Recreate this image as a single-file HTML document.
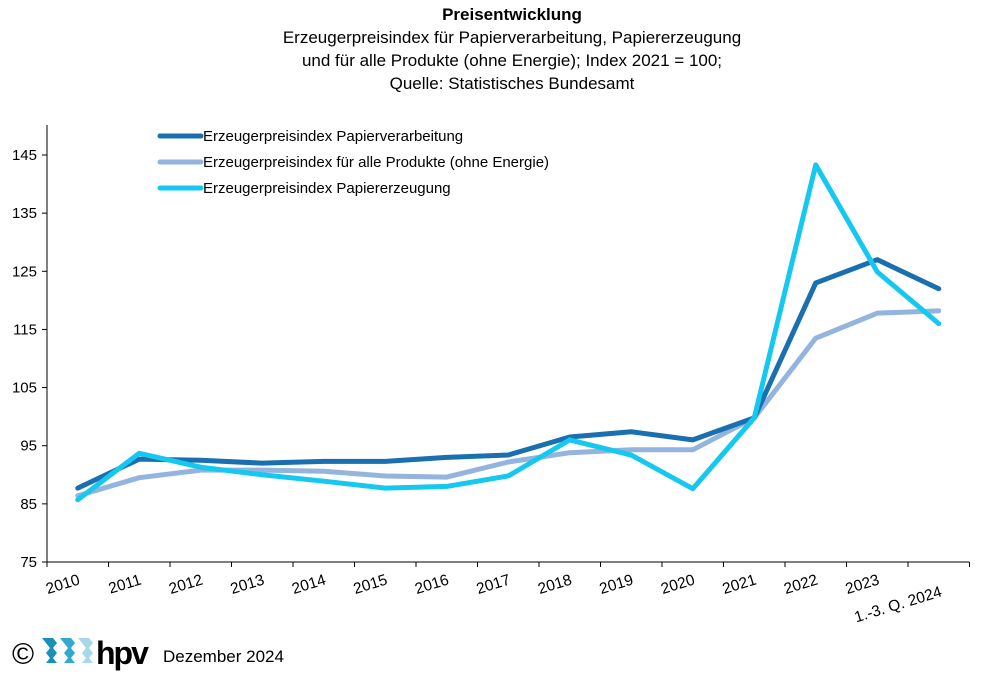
<!DOCTYPE html>
<html><head><meta charset="utf-8"><style>
body{margin:0;background:#fff;font-family:"Liberation Sans",sans-serif;}
#wrap{position:relative;width:981px;height:675px;overflow:hidden;}
</style></head><body>
<div id="wrap">
<svg id="chart" width="981" height="675" style="position:absolute;left:0;top:0">
<text x="512" y="20" text-anchor="middle" font-size="17" font-weight="bold">Preisentwicklung</text>
<text x="512" y="43" text-anchor="middle" font-size="17">Erzeugerpreisindex für Papierverarbeitung, Papiererzeugung</text>
<text x="512" y="66" text-anchor="middle" font-size="17">und für alle Produkte (ohne Energie); Index 2021 = 100;</text>
<text x="512" y="89" text-anchor="middle" font-size="17">Quelle: Statistisches Bundesamt</text>
<g id="axes"></g><g id="series"></g>
<g>
<line x1="160" y1="136" x2="201" y2="136" stroke="#1a6fb0" stroke-width="5" stroke-linecap="round"/>
<text x="203" y="141" font-size="15">Erzeugerpreisindex Papierverarbeitung</text>
<line x1="160" y1="162" x2="201" y2="162" stroke="#92b4de" stroke-width="5" stroke-linecap="round"/>
<text x="203" y="167" font-size="15">Erzeugerpreisindex für alle Produkte (ohne Energie)</text>
<line x1="160" y1="188" x2="201" y2="188" stroke="#14c8ef" stroke-width="5" stroke-linecap="round"/>
<text x="203" y="193" font-size="15">Erzeugerpreisindex Papiererzeugung</text>
</g>
<g>
<text x="12" y="664" font-size="30">©</text>
<path d="M42 638 h11 l4 5 l-4 5 l4 5 l-4 5 l4 5 h-11 l4 -5 l-4 -5 l4 -5 l-4 -5 z" fill="#1a8fb8"/>
<path d="M60 638 h11 l4 5 l-4 5 l4 5 l-4 5 l4 5 h-11 l4 -5 l-4 -5 l4 -5 l-4 -5 z" fill="#34a8cf"/>
<path d="M78 638 h11 l4 5 l-4 5 l4 5 l-4 5 l4 5 h-11 l4 -5 l-4 -5 l4 -5 l-4 -5 z" fill="#a6d8ea"/>
<text x="96" y="664" font-size="32" font-weight="bold" letter-spacing="-2">hpv</text>
<text x="163" y="662" font-size="17">Dezember 2024</text>
</g>
</svg>
</div>
<script>
const categories=["2010","2011","2012","2013","2014","2015","2016","2017","2018","2019","2020","2021","2022","2023","1.-3. Q. 2024"];
const papierverarbeitung=[87.7,92.7,92.5,92,92.3,92.3,93,93.4,96.5,97.4,96,99.8,123,127,122];
const alleProdukte=[86.4,89.5,90.8,90.8,90.6,89.8,89.6,92.2,93.8,94.3,94.3,99.8,113.5,117.8,118.2];
const papiererzeugung=[85.7,93.7,91.3,90,88.9,87.7,88,89.8,96,93.4,87.6,99.8,143.3,124.9,116];
const yTicks=[75,85,95,105,115,125,135,145];
const NS="http://www.w3.org/2000/svg";
const x0=47,step=61.5,yMin=75,yMax=145,yBot=562,yTop=155;
function xs(i){return x0+step*(i+0.5);}
function ys(v){return yBot-(v-yMin)*(yBot-yTop)/(yMax-yMin);}
function mk(t,a,p){const e=document.createElementNS(NS,t);for(const k in a)e.setAttribute(k,a[k]);p.appendChild(e);return e;}
const ax=document.getElementById('axes');
let l=mk('line',{x1:x0,y1:125,x2:x0,y2:yBot,stroke:'#000','stroke-width':1},ax);


l=mk('line',{x1:x0,y1:yBot,x2:x0+step*categories.length,y2:yBot,stroke:'#000','stroke-width':1},ax);


yTicks.forEach(v=>{
 const t=mk('line',{x1:x0-5,y1:ys(v),x2:x0,y2:ys(v),stroke:'#000'},ax);
 
 
 const tx=mk('text',{x:x0-10,y:ys(v)+5,'text-anchor':'end','font-size':15},ax);
 tx.textContent=v;
 
 
});
for(let i=0;i<=categories.length;i++){
 const t=mk('line',{x1:x0+step*i,y1:yBot,x2:x0+step*i,y2:yBot+5,stroke:'#000'},ax);
 
 
}
categories.forEach((c,i)=>{
 const cx=xs(i);
 const last=i===categories.length-1;
 const tx0=last?cx+4:cx+3, ty0=last?596:584;
 const tx=mk('text',{x:tx0,y:ty0,'text-anchor':'end','font-size':15.5,transform:`rotate(-17 ${tx0} ${ty0})`},ax);
 tx.textContent=c;
 
 
});
const sg=document.getElementById('series');
[[alleProdukte,'#92b4de','line-alle-produkte'],[papierverarbeitung,'#1a6fb0','line-papierverarbeitung'],[papiererzeugung,'#14c8ef','line-papiererzeugung']].forEach(([d,c,n])=>{
 const p=mk('polyline',{points:d.map((v,i)=>xs(i)+','+ys(v)).join(' '),fill:'none',stroke:c,'stroke-width':5,'stroke-linejoin':'round','stroke-linecap':'round'},sg);
 
 
});
</script>
</body></html>
